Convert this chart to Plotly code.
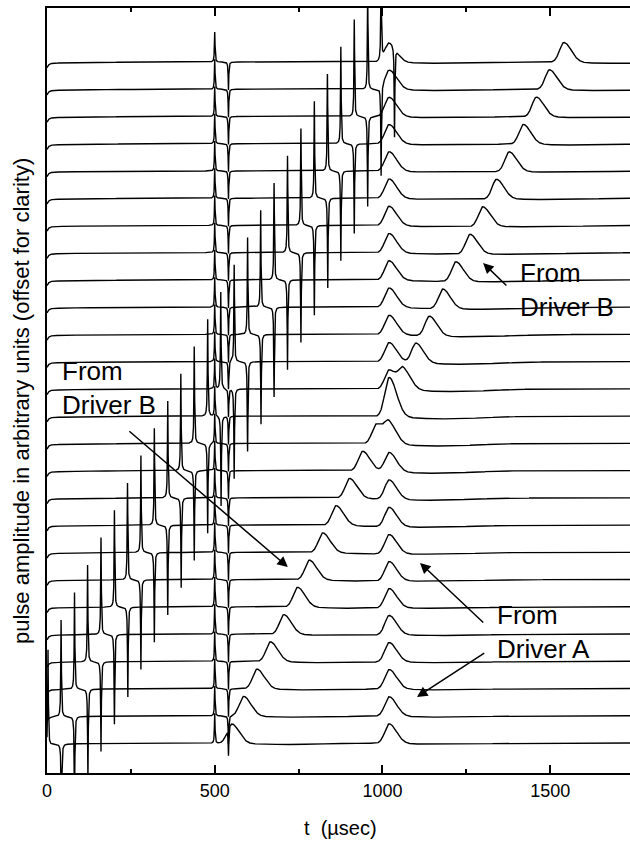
import numpy as np
import plotly.graph_objects as go

# ---------------- data ----------------
trace_offsets = [0, 1, 2, 3, 4, 5, 6, 7, 8, 9, 10, 11, 12, 13, 14, 15, 16, 17, 18, 19, 20, 21, 22, 23, 24, 25]
# arrival time (usec) of the pulse from driver B, per trace (bottom -> top)
b_pulse_t = [550, 586, 626, 666, 706, 747, 782, 822, 862, 902, 941, 982, 1020,
             1062, 1100, 1140, 1180, 1219, 1261, 1299, 1340, 1378, 1420, 1459, 1498, 1541]
# arrival time of the pulse from driver A (same for every trace)
a_pulse_t = [1020] * 26
# excitation pick-up spikes of driver B (up / down), per trace
b_spike_up_t = [3, 42, 82, 121, 161, 201, 240, 280, 320, 360, 399, 439, 479,
                518, 558, 598, 637, 677, 717, 757, 797, 836, 876, 916, 956, 996]
b_spike_dn_t = [43, 82, 122, 161, 201, 241, 280, 320, 360, 400, 439, 479, 519,
                558, 598, 638, 677, 717, 757, 797, 837, 876, 916, 956, 996, 1036]
# excitation pick-up spikes of driver A (up / down)
a_spike_up_t = 500
a_spike_dn_t = 541
# amplitudes (offset units)
a_pulse_amp = 0.72
b_pulse_amp = 0.73
a_spike_up_amp = 1.10
a_spike_dn_amp = 1.03
b_spike_up_amp = 3.56
b_spike_dn_amp = 3.30

x_ticks = [0, 500, 1000, 1500]
x_minor_ticks = [250, 750, 1250]

# ---------------- waveform synthesis ----------------
t = np.arange(0, 1738.01, 0.25)


def pulse(t0, amp, sl=13.0, sr=22.0):
    s = np.where(t < t0, sl, sr)
    main = amp * np.exp(-0.5 * ((t - t0) / s) ** 2)
    under = -0.07 * amp * np.exp(-0.5 * ((t - (t0 + 170)) / 110) ** 2)
    return main + under


def spike(t0, amp, g=1.1):
    return amp * g ** 2 / ((t - t0) ** 2 + g ** 2)


fig = go.Figure()
for k, off in enumerate(trace_offsets):
    y = np.full_like(t, float(off))
    y += -0.16 * np.exp(-t / 5.0) - 0.05 * np.exp(-t / 150.0)
    y += pulse(a_pulse_t[k], a_pulse_amp)
    y += pulse(b_pulse_t[k], b_pulse_amp)
    y += spike(a_spike_up_t, a_spike_up_amp) - spike(a_spike_dn_t, a_spike_dn_amp)
    y += spike(b_spike_up_t[k], b_spike_up_amp) - spike(b_spike_dn_t[k], b_spike_dn_amp)
    fig.add_trace(go.Scatter(x=t, y=y, mode="lines",
                             line=dict(color="black", width=1.4),
                             showlegend=False, hoverinfo="skip"))

FONT = "Liberation Sans, Arial, Helvetica, sans-serif"

fig.update_layout(
    width=630, height=841,
    margin=dict(l=47, r=0, t=8, b=68),
    paper_bgcolor="white", plot_bgcolor="white",
    font=dict(family=FONT, color="black"),
    xaxis=dict(range=[0, 1738], showline=True, linewidth=2, linecolor="black",
               mirror="ticks", ticks="inside", ticklen=8, tickwidth=1.5, tickcolor="black",
               tickvals=x_ticks, ticktext=[str(v) for v in x_ticks],
               tickfont=dict(size=18, family=FONT, color="black"),
               minor=dict(tickvals=x_minor_ticks, ticks="inside", ticklen=4,
                          tickwidth=1.5, tickcolor="black", showgrid=False),
               showgrid=False, zeroline=False),
    yaxis=dict(range=[-1.10, 26.98], showline=True, linewidth=2, linecolor="black",
               mirror=False, ticks="", showticklabels=False,
               showgrid=False, zeroline=False),
)

ann = []
# axis titles
ann.append(dict(text="t\u00a0\u00a0(\u00b5sec)", xref="paper", yref="paper",
                x=(340 - 47) / 583, y=(773 - 828) / 765, xanchor="center", yanchor="middle",
                showarrow=False, font=dict(size=20, family=FONT, color="black")))
ann.append(dict(text="pulse amplitude in arbitrary units (offset for clarity)",
                xref="paper", yref="paper", x=(22 - 47) / 583, y=(773 - 401) / 765,
                xanchor="center", yanchor="middle", textangle=-90, showarrow=False,
                font=dict(size=22, family=FONT, color="black")))

# labels
labels = [("From<br>Driver B", 38, 13.02),
          ("From<br>Driver B", 1405, 16.63),
          ("From<br>Driver A", 1335, 4.06)]
for txt, xx, yy in labels:
    ann.append(dict(text=txt, x=xx, y=yy, xref="x", yref="y", xanchor="left",
                    yanchor="middle", align="left", showarrow=False,
                    font=dict(size=26, family=FONT, color="black")))

# arrows (head x,y ; tail ax,ay)
arrows = [(718, 6.46, 241, 11.49),
          (1300, 17.62, 1374, 16.74),
          (1112, 6.61, 1305, 4.37),
          (1103, 1.69, 1308, 3.34)]
for hx, hy, tx, ty in arrows:
    ann.append(dict(text="", x=hx, y=hy, ax=tx, ay=ty, xref="x", yref="y",
                    axref="x", ayref="y", showarrow=True, arrowhead=2,
                    arrowsize=1.4, arrowwidth=1.5, arrowcolor="black", standoff=0,
                    startstandoff=0))
fig.update_layout(annotations=ann)

fig.write_html("out.html")
